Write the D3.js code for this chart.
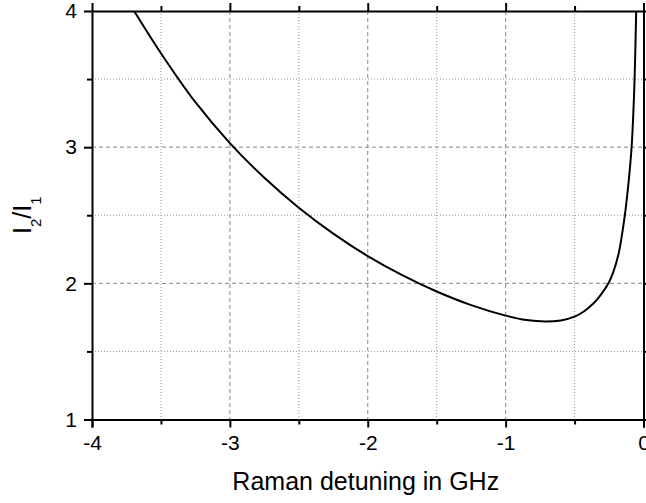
<!DOCTYPE html>
<html><head><meta charset="utf-8">
<script src="https://cdn.jsdelivr.net/npm/d3@7"></script>
<style>html,body{margin:0;padding:0;background:#fff;overflow:hidden}</style>
</head><body>
<svg id="c" width="646" height="503"></svg>
<script>
const detuning = [-3.74,-3.695,-3.5,-3.25,-3.0,-2.75,-2.5,-2.25,-2.0,-1.75,-1.5,-1.25,-1.0,-0.85,-0.71,-0.6,-0.5,-0.43,-0.36,-0.31,-0.254,-0.22,-0.18,-0.138,-0.12,-0.1,-0.085,-0.075,-0.066,-0.06,-0.053,-0.05];
const ratio =    [4.07, 4.00, 3.69, 3.33, 3.03, 2.775,2.555,2.365,2.20, 2.06, 1.94, 1.84, 1.763,1.73, 1.719,1.727,1.755,1.795,1.855,1.915,2.00, 2.08, 2.22, 2.48, 2.63, 2.83, 3.02, 3.22, 3.46, 3.68, 4.00, 4.15];
const xMajor = [-4,-3,-2,-1,0];
const xMinor = [-3.5,-2.5,-1.5,-0.5];
const yMajor = [1,2,3,4];
const yMinor = [1.5,2.5,3.5];
const xTitle = "Raman detuning in GHz";

const L=92, R=643.5, T=11, B=419.5;
const svg = d3.select("#c");
const x = d3.scaleLinear().domain([-4,0]).range([L,R]);
const y = d3.scaleLinear().domain([1,4]).range([B,T]);
const font = "Arial, 'Liberation Sans', sans-serif";

const grid = svg.append("g");
grid.selectAll(".vM").data(xMajor.filter(d=>d>-4&&d<0)).join("line")
  .attr("x1",d=>x(d)).attr("x2",d=>x(d)).attr("y1",T).attr("y2",B)
  .attr("stroke","#888").attr("stroke-width",1).attr("stroke-dasharray","4,3");
grid.selectAll(".vm").data(xMinor).join("line")
  .attr("x1",d=>x(d)).attr("x2",d=>x(d)).attr("y1",T).attr("y2",B)
  .attr("stroke","#999").attr("stroke-width",1).attr("stroke-dasharray","1,2");
grid.selectAll(".hM").data(yMajor.filter(d=>d>1&&d<4)).join("line")
  .attr("y1",d=>y(d)).attr("y2",d=>y(d)).attr("x1",L).attr("x2",R)
  .attr("stroke","#888").attr("stroke-width",1).attr("stroke-dasharray","4,3");
grid.selectAll(".hm").data(yMinor).join("line")
  .attr("y1",d=>y(d)).attr("y2",d=>y(d)).attr("x1",L).attr("x2",R)
  .attr("stroke","#999").attr("stroke-width",1).attr("stroke-dasharray","1,2");

svg.append("clipPath").attr("id","clip").append("rect")
  .attr("x",L).attr("y",T).attr("width",R-L).attr("height",B-T);
const pts = detuning.map((d,i)=>[d, ratio[i]]);
svg.append("path").datum(pts).attr("clip-path","url(#clip)")
  .attr("d", d3.line().x(d=>x(d[0])).y(d=>y(d[1])).curve(d3.curveCatmullRom.alpha(0.5)))
  .attr("fill","none").attr("stroke","#000").attr("stroke-width",2);

function styleAxis(g){
  g.select(".domain").attr("stroke","#000").attr("stroke-width",2);
  g.selectAll(".tick line").attr("stroke","#000").attr("stroke-width",2);
  g.selectAll("text").attr("font-family",font).attr("font-size",21).attr("fill","#000");
}
// bottom
const gb = svg.append("g").attr("transform",`translate(0,${B})`);
gb.call(d3.axisBottom(x).tickValues(xMajor).tickFormat(d3.format("d")).tickSizeOuter(0).tickSize(8).tickPadding(7.5));
styleAxis(gb);
gb.selectAll(".tick text").text(d=>String(d));
const gbm = svg.append("g").attr("transform",`translate(0,${B})`);
gbm.call(d3.axisBottom(x).tickValues(xMinor).tickFormat("").tickSize(5).tickSizeOuter(0));
styleAxis(gbm); gbm.select(".domain").remove();
// top
const gt = svg.append("g").attr("transform",`translate(0,${T})`);
gt.call(d3.axisBottom(x).tickValues(xMajor).tickFormat("").tickSize(-8).tickSizeOuter(0));
styleAxis(gt);
const gtm = svg.append("g").attr("transform",`translate(0,${T})`);
gtm.call(d3.axisBottom(x).tickValues(xMinor).tickFormat("").tickSize(-5).tickSizeOuter(0));
styleAxis(gtm); gtm.select(".domain").remove();
// left
const gl = svg.append("g").attr("transform",`translate(${L},0)`);
gl.call(d3.axisLeft(y).tickValues(yMajor).tickFormat(d3.format("d")).tickSize(8).tickSizeOuter(0).tickPadding(7));
styleAxis(gl);
const glm = svg.append("g").attr("transform",`translate(${L},0)`);
glm.call(d3.axisLeft(y).tickValues(yMinor).tickFormat("").tickSize(5).tickSizeOuter(0));
styleAxis(glm); glm.select(".domain").remove();
// right
const gr = svg.append("g").attr("transform",`translate(${R},0)`);
gr.call(d3.axisLeft(y).tickValues(yMajor).tickFormat("").tickSize(-8).tickSizeOuter(0));
styleAxis(gr);
const grm = svg.append("g").attr("transform",`translate(${R},0)`);
grm.call(d3.axisLeft(y).tickValues(yMinor).tickFormat("").tickSize(-5).tickSizeOuter(0));
styleAxis(grm); grm.select(".domain").remove();

// titles
svg.append("text").attr("x",(L+R)/2 - 2).attr("y",489.5).attr("text-anchor","middle")
  .attr("font-family",font).attr("font-size",25).text(xTitle);
const yt = svg.append("text").attr("transform",`translate(31,${(T+B)/2}) rotate(-90)`)
  .attr("text-anchor","middle").attr("font-family",font).attr("font-size",25);
yt.append("tspan").text("I");
yt.append("tspan").attr("font-size",15).attr("dy",10).text("2");
yt.append("tspan").attr("dy",-10).text("/I");
yt.append("tspan").attr("font-size",15).attr("dy",10).text("1");
</script>
</body></html>
